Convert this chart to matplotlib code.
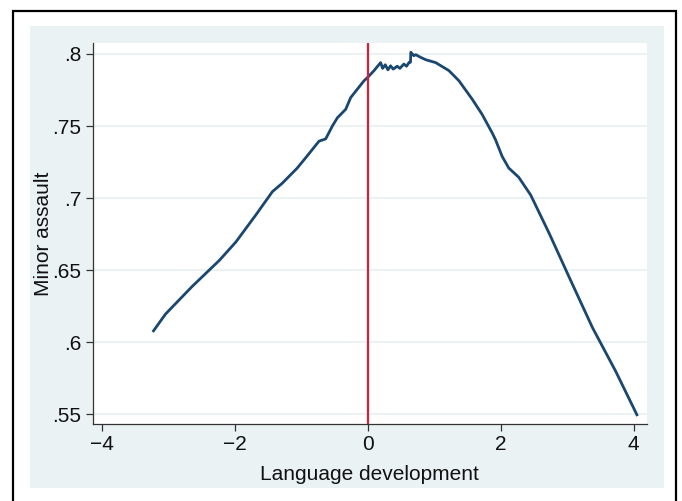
"""Minor assault vs language development, Stata-style line plot."""
import numpy as np
import matplotlib
matplotlib.use('Agg')
import matplotlib.pyplot as plt
from matplotlib.patches import Rectangle

plt.rcParams['font.family'] = ['Liberation Sans', 'DejaVu Sans']

# curve
lang_dev = [-3.23, -3.05, -2.65, -2.24, -1.99, -1.69, -1.44, -1.29, -1.065, -0.93,
            -0.738, -0.637, -0.537, -0.46, -0.336, -0.26, -0.16, -0.06, 0.0, 0.09,
            0.19, 0.22, 0.26, 0.30, 0.34, 0.38, 0.44, 0.48, 0.54, 0.58,
            0.62, 0.64, 0.645, 0.69, 0.72, 0.79, 0.87, 1.02, 1.22, 1.37,
            1.57, 1.72, 1.87, 1.92, 2.02, 2.12, 2.27, 2.45, 2.73, 3.03,
            3.38, 3.73, 4.05]
minor_assault = [0.608, 0.6196, 0.6387, 0.6568, 0.6696, 0.6883, 0.7045, 0.7104, 0.7209, 0.7285,
                 0.7395, 0.7411, 0.750, 0.7558, 0.7616, 0.7698, 0.7756, 0.7814, 0.784, 0.7884,
                 0.794, 0.790, 0.7925, 0.789, 0.7918, 0.7895, 0.7915, 0.790, 0.793, 0.7915,
                 0.7942, 0.7942, 0.8012, 0.7988, 0.7995, 0.7977, 0.796, 0.794, 0.7884, 0.7814,
                 0.7686, 0.758, 0.7453, 0.7406, 0.729, 0.7209, 0.7145, 0.7022, 0.6755, 0.6452,
                 0.6103, 0.580, 0.5498]

x_ticks = [-4, -2, 0, 2, 4]
x_tick_labels = ['\u22124', '\u22122', '0', '2', '4']
y_ticks = [0.55, 0.6, 0.65, 0.7, 0.75, 0.8]
y_tick_labels = ['.55', '.6', '.65', '.7', '.75', '.8']

W, H = 682, 501
fig = plt.figure(figsize=(W / 100, H / 100), dpi=100, facecolor='white')

# outer light panel and black frame
fig.patches.append(Rectangle((30 / W, 1 - 487.7 / H), (663.7 - 30) / W, (487.7 - 26) / H,
                             transform=fig.transFigure, facecolor='#EAF2F3',
                             edgecolor='none', zorder=-5))
fig.patches.append(Rectangle((13 / W, -0.1), (676 - 13) / W, 1.1 - 11 / H,
                             transform=fig.transFigure, facecolor='none',
                             edgecolor='black', linewidth=1.6, zorder=-4))

ax = fig.add_axes([92.7 / W, 1 - 424 / H, (647 - 92.7) / W, (424 - 43) / H])
ax.set_facecolor('white')

for yv in y_ticks:
    ax.axhline(yv, color='#EAF2F3', linewidth=1.5, zorder=1)

ax.plot(lang_dev, minor_assault, color='#1A476F', linewidth=2.0, zorder=3)
ax.axvline(0, color='#D0213A', linewidth=1.6, zorder=4)

ax.set_xlim(-4.146, 4.202)
ax.set_ylim(0.5434, 0.8076)

ax.set_xticks(x_ticks)
ax.set_xticklabels(x_tick_labels)
ax.set_yticks(y_ticks)
ax.set_yticklabels(y_tick_labels)
ax.tick_params(axis='both', labelsize=15, color='#333333', length=5, width=0.9,
               labelcolor='#111111', pad=3)

for side in ['top', 'right']:
    ax.spines[side].set_visible(False)
for side in ['left', 'bottom']:
    ax.spines[side].set_color('#333333')
    ax.spines[side].set_linewidth(0.9)

ax.set_xlabel('Language development', fontsize=15, color='#111111', labelpad=8)
ax.set_ylabel('Minor assault', fontsize=15, color='#111111', labelpad=0)

fig.savefig('out.png', dpi=100, facecolor='white')
